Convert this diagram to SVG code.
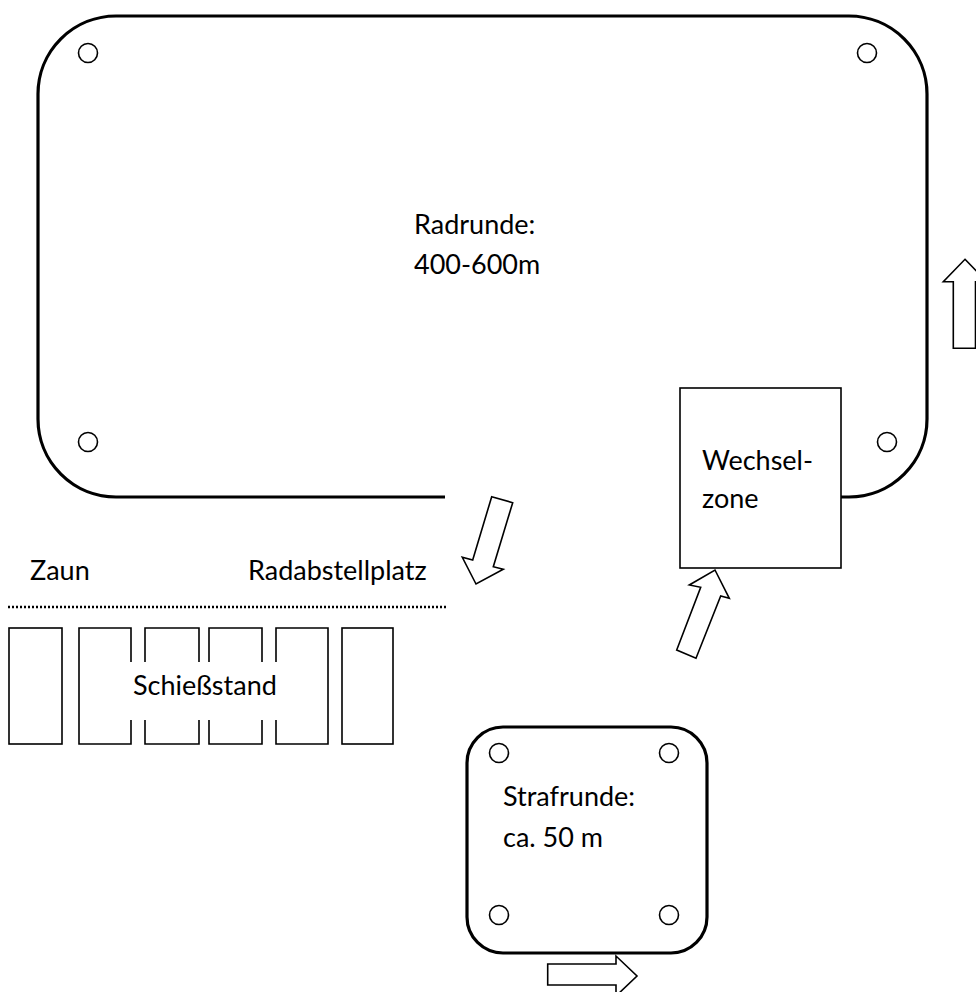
<svg xmlns="http://www.w3.org/2000/svg" width="976" height="992" viewBox="0 0 976 992">
<style>
.thick{fill:none;stroke:#000;stroke-width:3.2}
.thin{fill:none;stroke:#000;stroke-width:1.6}
.box{fill:#fff;stroke:#000;stroke-width:1.6}
.arrow{fill:#fff;stroke:#000;stroke-width:1.6;stroke-linejoin:miter}
.hole{fill:#fff;stroke:#000;stroke-width:1.6}
text{font-family:Lato,"Open Sans","Liberation Sans",sans-serif;font-size:27px;fill:#000}
</style>
<rect width="976" height="992" fill="#fff"/>
<g id="radrunde">
<path class="thick" d="M445,497 H116 A78,78 0 0 1 38,419 V94 A78,78 0 0 1 116,16 H849 A78,78 0 0 1 927,94 V419 A78,78 0 0 1 849,497 H841"/>
<circle class="hole" cx="88" cy="53" r="9.5"/>
<circle class="hole" cx="867" cy="53" r="9.5"/>
<circle class="hole" cx="88" cy="442" r="9.5"/>
<circle class="hole" cx="887" cy="442" r="9.5"/>
<text x="414" y="234">Radrunde:</text>
<text x="414" y="274">400-600m</text>
</g>
<g id="wechselzone">
<rect class="box" x="680" y="388" width="161" height="180"/>
<text x="702" y="470">Wechsel-</text>
<text x="702" y="508">zone</text>
</g>
<g id="zaun">
<line x1="8" y1="607" x2="447" y2="607" stroke="#000" stroke-width="2.5" stroke-dasharray="2 2"/>
<text x="30" y="580">Zaun</text>
<text x="248" y="580">Radabstellplatz</text>
</g>
<g id="schiessstand" class="thin">
<rect x="9" y="628" width="53" height="116"/>
<path d="M131,662 V628 H79 V744 H131 V720"/>
<path d="M145,662 V628 H199 V662 M145,720 V744 H199 V720"/>
<path d="M209,662 V628 H262 V662 M209,720 V744 H262 V720"/>
<path d="M276,662 V628 H328 V744 H276 V720"/>
<rect x="342" y="628" width="51" height="116"/>
<text x="133" y="695" stroke="none">Schießstand</text>
</g>
<g id="strafrunde">
<rect class="thick" x="467" y="727" width="240" height="226" rx="36" ry="36"/>
<circle class="hole" cx="499" cy="753" r="9.5"/>
<circle class="hole" cx="669" cy="753" r="9.5"/>
<circle class="hole" cx="499" cy="915" r="9.5"/>
<circle class="hole" cx="669" cy="915" r="9.5"/>
<text x="503" y="806">Strafrunde:</text>
<text x="503" y="847">ca. 50 m</text>
</g>
<g id="connectors">
<polygon class="arrow" points="491.7,496.7 512.7,502.7 493.3,566.7 503.3,569.3 476,584 462.3,557.3 472.7,560"/>
<polygon class="arrow" points="715,570 729.3,598.3 720.7,596 696,658.3 676.7,650 700.7,587.3 689.3,585"/>
<polygon class="arrow" points="965,259.3 986.7,281.7 975.5,281.7 975.5,348.3 953.3,348.3 953.3,281.7 943.3,281.7"/>
<polygon class="arrow" points="547.7,964 616,964 616,956 637,976 616,996 616,985 547.7,985"/>
</g>
</svg>
